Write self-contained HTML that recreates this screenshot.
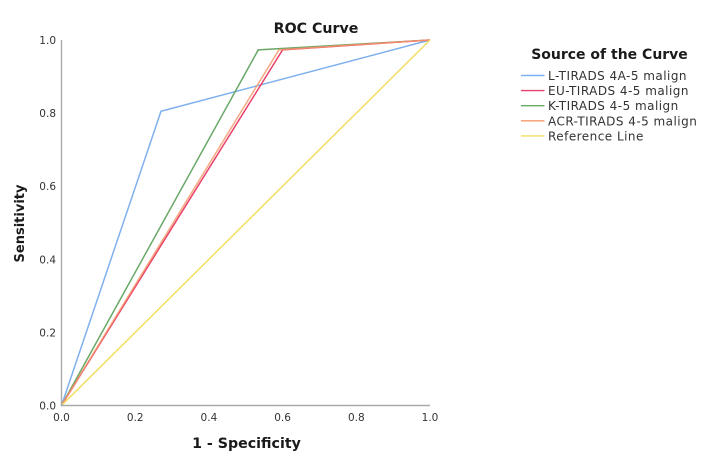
<!DOCTYPE html>
<html>
<head>
<meta charset="utf-8">
<style>
html,body{margin:0;padding:0;background:#fff;width:712px;height:461px;overflow:hidden}
svg{display:block}
text{font-family:"DejaVu Sans","Liberation Sans",sans-serif}
</style>
</head>
<body>
<svg id="chart" width="712" height="461" viewBox="0 0 712 461" xmlns="http://www.w3.org/2000/svg">
<text x="316" y="33" text-anchor="middle" font-size="14.2" font-weight="bold" fill="#1a1a1a">ROC Curve</text>
<text x="246.5" y="448" text-anchor="middle" font-size="14.2" font-weight="bold" fill="#1a1a1a">1 - Specificity</text>
<text transform="translate(24,223.5) rotate(-90)" text-anchor="middle" font-size="13" font-weight="bold" fill="#1a1a1a">Sensitivity</text>
<g id="marks"></g>
<g id="axes"></g>
<g id="legend">
<text x="609.5" y="59" text-anchor="middle" font-size="14" font-weight="bold" fill="#1a1a1a">Source of the Curve</text>
</g>
</svg>
<script>
const tickValues = [0, 0.2, 0.4, 0.6, 0.8, 1];
const seriesNames = ["L-TIRADS 4A-5 malign", "EU-TIRADS 4-5 malign", "K-TIRADS 4-5 malign", "ACR-TIRADS 4-5 malign", "Reference Line"];
const seriesColors = ["#7fb0ee", "#e8406a", "#6aa867", "#f59a6c", "#f2de62"];
const lTiradsFpr = [0, 0.27, 1];
const lTiradsTpr = [0, 0.805, 1];
const euTiradsFpr = [0, 0.6, 1];
const euTiradsTpr = [0, 0.973, 1];
const kTiradsFpr = [0, 0.534, 1];
const kTiradsTpr = [0, 0.973, 1];
const acrTiradsFpr = [0, 0.59, 1];
const acrTiradsTpr = [0, 0.973, 1];
const referenceFpr = [0, 1];
const referenceTpr = [0, 1];
const seriesFpr = [lTiradsFpr, euTiradsFpr, kTiradsFpr, acrTiradsFpr, referenceFpr];
const seriesTpr = [lTiradsTpr, euTiradsTpr, kTiradsTpr, acrTiradsTpr, referenceTpr];
const drawOrder = [0, 2, 1, 3, 4];

const NS = "http://www.w3.org/2000/svg";
const plotLeft = 61.5, plotRight = 430, plotTop = 40, plotBottom = 405.5;
const xScale = v => plotLeft + v * (plotRight - plotLeft);
const yScale = v => plotBottom - v * (plotBottom - plotTop);

const marks = document.getElementById("marks");
drawOrder.forEach(i => {
  const line = document.createElementNS(NS, "polyline");
  line.setAttribute("points", seriesFpr[i].map((x, j) => xScale(x) + "," + yScale(seriesTpr[i][j])).join(" "));
  line.setAttribute("fill", "none");
  line.setAttribute("stroke", seriesColors[i]);
  line.setAttribute("stroke-width", "1.5");
  line.setAttribute("stroke-opacity", i === 3 ? "0.85" : "1");
  
  
  marks.appendChild(line);
});

const axes = document.getElementById("axes");
const xAxis = document.createElementNS(NS, "line");
xAxis.setAttribute("x1", plotLeft - 0.7);
xAxis.setAttribute("x2", plotRight);
xAxis.setAttribute("y1", plotBottom);
xAxis.setAttribute("y2", plotBottom);
xAxis.setAttribute("stroke", "#a9a9a9");
xAxis.setAttribute("stroke-width", "1.4");


axes.appendChild(xAxis);
const yAxis = document.createElementNS(NS, "line");
yAxis.setAttribute("x1", plotLeft);
yAxis.setAttribute("x2", plotLeft);
yAxis.setAttribute("y1", plotTop);
yAxis.setAttribute("y2", plotBottom + 0.7);
yAxis.setAttribute("stroke", "#a9a9a9");
yAxis.setAttribute("stroke-width", "1.4");


axes.appendChild(yAxis);

tickValues.forEach(v => {
  const xt = document.createElementNS(NS, "text");
  xt.setAttribute("x", xScale(v));
  xt.setAttribute("y", 421);
  xt.setAttribute("text-anchor", "middle");
  xt.setAttribute("font-size", "10.5");
  xt.setAttribute("fill", "#333");
  xt.textContent = v.toFixed(1);
  
  
  axes.appendChild(xt);
  const yt = document.createElementNS(NS, "text");
  yt.setAttribute("x", 56);
  yt.setAttribute("y", yScale(v) + 4);
  yt.setAttribute("text-anchor", "end");
  yt.setAttribute("font-size", "10.5");
  yt.setAttribute("fill", "#333");
  yt.textContent = v.toFixed(1);
  
  
  axes.appendChild(yt);
});

const legend = document.getElementById("legend");
seriesNames.forEach((name, i) => {
  const rowY = 75.5 + i * 15.1;
  const key = document.createElementNS(NS, "line");
  key.setAttribute("x1", 521);
  key.setAttribute("x2", 544.5);
  key.setAttribute("y1", rowY);
  key.setAttribute("y2", rowY);
  key.setAttribute("stroke", seriesColors[i]);
  key.setAttribute("stroke-width", "1.4");
  
  
  legend.appendChild(key);
  const label = document.createElementNS(NS, "text");
  label.setAttribute("x", 548);
  label.setAttribute("y", rowY + 4.5);
  label.setAttribute("font-size", "12");
  label.setAttribute("letter-spacing", "0.47");
  label.setAttribute("fill", "#333");
  label.textContent = name;
  
  
  legend.appendChild(label);
});
</script>
</body>
</html>
